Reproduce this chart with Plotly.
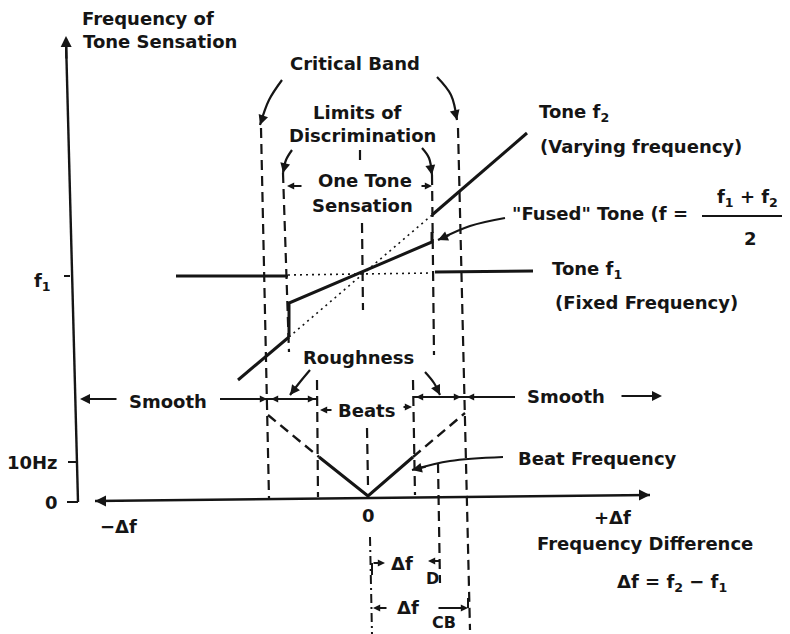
import plotly.graph_objects as go

# Coordinates in a plain diagram space:
# x = frequency difference (0 at the centre), y = frequency of tone sensation.

# drawn axes
freq_axis_x = [-288, -300]
freq_axis_y = [-2, 460]
df_axis_x = [-271, 284]
df_axis_y = [-1, 5]

# y ticks
tick_labels = ["f<sub>1</sub>", "10Hz", "0"]
tick_y = [224, 38, -2]
tick_x0 = [-302, -298, -299]
tick_x1 = [-296, -290, -288]

# tone f1 (fixed), left solid / dotted middle / right solid
tone_f1_left_x = [-190, -78]
tone_f1_left_y = [224, 224]
tone_f1_mid_x = [-78, 67]
tone_f1_mid_y = [225, 227]
tone_f1_right_x = [69, 167]
tone_f1_right_y = [228, 229]

# tone f2 (varying)
tone_f2_left_x = [-128, -77]
tone_f2_left_y = [120, 163]
tone_f2_mid_x = [-77, 66]
tone_f2_mid_y = [163, 285]
tone_f2_right_x = [66, 161]
tone_f2_right_y = [285, 367]

# fused tone
fused_x = [-77, -77, 66, 66]
fused_y = [163, 197, 258, 268]

# dashed boundary lines
cb_left_x, cb_left_y = [-105, -97], [372, 2]
cb_right_x, cb_right_y = [92, 104], [372, -130]
lod_left_x, lod_left_y = [-83, -77], [327, 148]
lod_right_x, lod_right_y = [66, 68], [325, 145]
dfd_x, dfd_y = [72, 74], [37, -83]
beats_left_x, beats_left_y = [-49, -48], [120, 3]
beats_right_x, beats_right_y = [47, 49], [120, 5]
centre_top_x, centre_top_y = [-6, -6], [350, 335]
centre_mid_x, centre_mid_y = [-4, -3], [277, 190]
centre_low_x, centre_low_y = [1, 2], [72, 15]
centre_bot_x, centre_bot_y = [4, 6], [-37, -134]

# beat frequency
beat_x = [-47, 2, 47]
beat_y = [43, 4, 43]
beat_dash_left_x, beat_dash_left_y = [-98, -47], [85, 43]
beat_dash_right_x, beat_dash_right_y = [47, 99], [43, 87]

# smooth / roughness band line
smooth_left_x, smooth_left_y = [-146, -49], [101, 101]
smooth_right_x, smooth_right_y = [47, 149], [103, 103]

# fraction bar of the fused tone formula
frac_x, frac_y = [336, 416], [284, 284]

# curved pointer arrows: (xs, ys), tip is the last point
critical_left = ([-84, -97, -106], [420, 400, 375])
critical_right = ([71, 85, 91], [423, 405, 380])
lod_left_arrow = ([-74, -80, -83], [350, 340, 327])
lod_right_arrow = ([56, 63, 66], [352, 342, 325])
fused_arrow = ([139, 104, 72], [282, 274, 260])
beatfreq_arrow = ([137, 84, 46], [43, 39, 30])
rough_left_arrow = ([-56, -66, -76], [130, 118, 105])
rough_right_arrow = ([59, 68, 74], [128, 117, 105])

INK = "#151515"
FONT = "DejaVu Sans"

fig = go.Figure()


def seg(x, y, width=2.6, dash="solid", shape="linear"):
    fig.add_trace(go.Scatter(x=x, y=y, mode="lines", hoverinfo="skip",
                             line=dict(color=INK, width=width, dash=dash, shape=shape)))


def arrow(x0, y0, x1, y1, width=2, head=2, size=1.0):
    # arrow from (x0, y0) with its head at (x1, y1)
    fig.add_annotation(x=x1, y=y1, ax=x0, ay=y0, xref="x", yref="y", axref="x", ayref="y",
                       text="", showarrow=True, arrowhead=head, arrowsize=size,
                       arrowwidth=width, arrowcolor=INK, standoff=0, startstandoff=0)


def label(x, y, text, size=18, anchor="center"):
    fig.add_annotation(x=x, y=y, xref="x", yref="y", text=text, showarrow=False,
                       xanchor=anchor, yanchor="middle",
                       font=dict(family=FONT, size=size, color=INK, weight="bold"))


DASH = "10px,6px"
DOT = "2px,4px"

# axes
seg(freq_axis_x, freq_axis_y, width=2.4)
arrow(freq_axis_x[1] + 0.4, freq_axis_y[1] - 20, freq_axis_x[1], freq_axis_y[1] + 4, width=2.2, head=2)
seg(df_axis_x, df_axis_y, width=2.4)
arrow(df_axis_x[0] + 30, df_axis_y[0], df_axis_x[0], df_axis_y[0], width=2.2, head=2)
arrow(df_axis_x[1] - 30, df_axis_y[1], df_axis_x[1], df_axis_y[1], width=2.2, head=2)
for x0, x1, yv in zip(tick_x0, tick_x1, tick_y):
    seg([x0, x1], [yv, yv], width=2)

# tones
seg(tone_f1_left_x, tone_f1_left_y, width=3)
seg(tone_f1_mid_x, tone_f1_mid_y, width=1.6, dash=DOT)
seg(tone_f1_right_x, tone_f1_right_y, width=3)
seg(tone_f2_left_x, tone_f2_left_y, width=3)
seg(tone_f2_mid_x, tone_f2_mid_y, width=1.6, dash=DOT)
seg(tone_f2_right_x, tone_f2_right_y, width=3)
seg(fused_x, fused_y, width=3)

# dashed verticals
for xs, ys in [(cb_left_x, cb_left_y), (cb_right_x, cb_right_y), (lod_left_x, lod_left_y),
               (lod_right_x, lod_right_y), (dfd_x, dfd_y), (beats_left_x, beats_left_y),
               (beats_right_x, beats_right_y), (centre_top_x, centre_top_y),
               (centre_mid_x, centre_mid_y), (centre_low_x, centre_low_y)]:
    seg(xs, ys, width=2.2, dash=DASH)
seg(centre_bot_x, centre_bot_y, width=2, dash="9px,4px,2px,4px")

# beat frequency
seg(beat_x, beat_y, width=3)
seg(beat_dash_left_x, beat_dash_left_y, width=2.4, dash=DASH)
seg(beat_dash_right_x, beat_dash_right_y, width=2.4, dash=DASH)

# smooth / roughness / beats band
seg(smooth_left_x, smooth_left_y, width=2)
seg(smooth_right_x, smooth_right_y, width=2)
arrow(-248, 101, -286, 101, width=2)
arrow(-146, 101, -99, 101, width=1.8, size=0.8)
arrow(-75, 101, -95, 101, width=1.8, size=0.8)
arrow(-70, 101, -51, 101, width=1.8, size=0.8)
arrow(70, 103, 50, 103, width=1.8, size=0.8)
arrow(75, 103, 95, 103, width=1.8, size=0.8)
arrow(140, 103, 101, 103, width=1.8, size=0.8)
arrow(254, 104, 296, 104, width=2)
arrow(-33, 90, -46, 90, width=1.8, size=0.8)
arrow(36, 93, 46, 93, width=1.8, size=0.8)

# one tone sensation markers
arrow(-63, 314, -79, 314, width=1.8, size=0.8)
arrow(54, 314, 66, 314, width=1.8, size=0.8)

# curved pointers
for xs, ys in [critical_left, critical_right, lod_left_arrow, lod_right_arrow,
               fused_arrow, beatfreq_arrow, rough_left_arrow, rough_right_arrow]:
    seg(xs, ys, width=2.2, shape="spline")
    arrow(xs[1] * 0.4 + xs[2] * 0.6, ys[1] * 0.4 + ys[2] * 0.6, xs[2], ys[2], width=2.2, size=0.9)

# fraction bar
seg(frac_x, frac_y, width=2)

# bottom dimension marks
seg([6, 6], [-75, -63], width=2)
arrow(6, -63, 19, -63, width=1.8, size=0.8)
arrow(75, -61, 62, -61, width=1.8, size=0.8)
arrow(22, -108, 7, -108, width=1.8, size=0.8)
arrow(71, -108, 102, -108, width=1.8, size=0.8)
seg([102, 102], [-108, -98], width=2)

# text
label(-286, 482, "Frequency of", anchor="left")
label(-285, 459, "Tone Sensation", anchor="left")
for t, yv, xv in zip(tick_labels, tick_y, [-324, -306, -315]):
    label(xv, yv - 6 if t.startswith("f") else yv, t, anchor="right" if t == "10Hz" else "center")
label(-11, 437, "Critical Band")
label(-9, 388, "Limits of")
label(-4, 365, "Discrimination")
label(-1, 320, "One Tone")
label(-4, 295, "Sensation")
label(171, 387, "Tone f<sub>2</sub>", anchor="left")
label(172, 354, "(Varying frequency)", anchor="left")
label(144, 287, "\"Fused\" Tone (f =", anchor="left")
label(381, 302, "f<sub>1</sub> + f<sub>2</sub>")
label(384, 262, "2")
label(416, 287, ")", anchor="left")
label(184, 230, "Tone f<sub>1</sub>", anchor="left")
label(187, 198, "(Fixed Frequency)", anchor="left")
label(-8, 143, "Roughness")
label(-198, 99, "Smooth")
label(0, 90, "Beats")
label(200, 104, "Smooth")
label(150, 42, "Beat Frequency", anchor="left")
label(2, -15, "0")
label(-248, -26, "\u2212\u0394f")
label(246, -17, "+\u0394f")
label(279, -43, "Frequency Difference")
label(306, -83, "\u0394f = f<sub>2</sub> \u2212 f<sub>1</sub>")
label(36, -63, "\u0394f")
label(66, -78, "D", size=16)
label(42, -107, "\u0394f")
label(78, -122, "CB", size=16)

# the page body adds an 8px margin, so the figure covers pixels 8..790 x 8..634
fig.update_layout(
    width=782, height=626,
    margin=dict(l=0, r=0, t=0, b=0, pad=0),
    paper_bgcolor="white", plot_bgcolor="white",
    showlegend=False,
    xaxis=dict(range=[-358, 424], visible=False, fixedrange=True),
    yaxis=dict(range=[-134, 492], visible=False, fixedrange=True),
)

fig.write_html("out.html")
